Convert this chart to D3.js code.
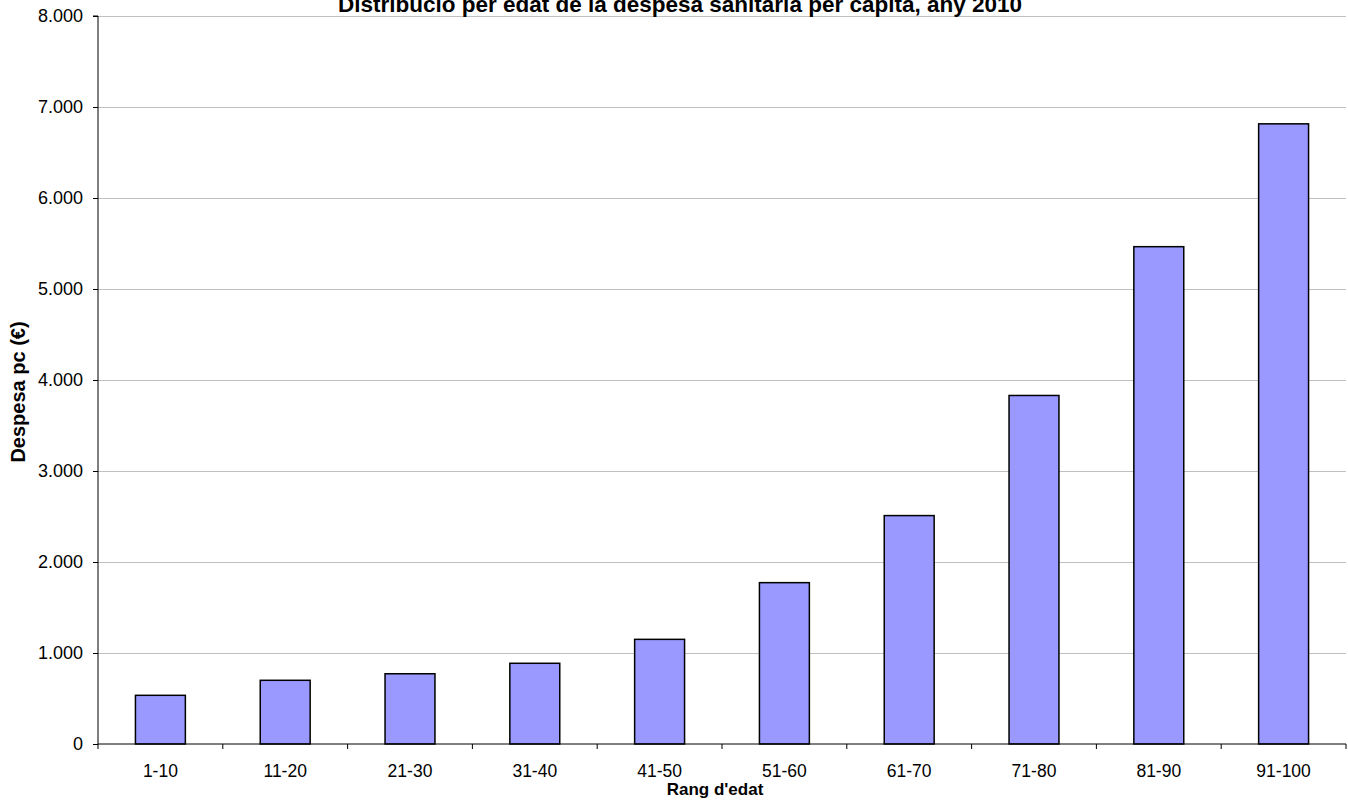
<!DOCTYPE html>
<html><head><meta charset="utf-8">
<script src="https://cdn.jsdelivr.net/npm/d3@7"></script>
<style>body{margin:0;background:#fff;font-family:Arial,"Liberation Sans",sans-serif;}</style>
</head><body><svg id="c" width="1348" height="801" style="display:block"></svg>
<script>
const categories = ["1-10","11-20","21-30","31-40","41-50","51-60","61-70","71-80","81-90","91-100"];
const values = [535, 700, 772, 887, 1150, 1773, 2510, 3830, 5465, 6815];
const yTicks = [0,1000,2000,3000,4000,5000,6000,7000,8000];
const title = "Distribució per edat de la despesa sanitària per càpita, any 2010";
const xTitle = "Rang d'edat";
const yTitle = "Despesa pc (€)";

const svg = d3.select("#c");
const m = {left:98, right:1346, top:16, bottom:744};
const x = d3.scaleBand().domain(categories).range([m.left, m.right]).paddingInner(0.6).paddingOuter(0.3);
const xb = d3.scaleBand().domain(categories).range([m.left, m.right]);
const y = d3.scaleLinear().domain([0,8000]).range([m.bottom, m.top]);
const fmt = d => d3.format(",")(d).replace(/,/g, ".");
const FONT = "Arial, Liberation Sans, sans-serif";

// gridlines
svg.append("g").selectAll("line").data(yTicks.filter(d=>d>0)).join("line")
  .attr("x1", m.left).attr("x2", m.right).attr("y1", d=>y(d)).attr("y2", d=>y(d))
  .attr("stroke", "#c0c0c0").attr("stroke-width", 1).attr("shape-rendering","crispEdges");

// bars
svg.append("g").selectAll("rect").data(values).join("rect")
  .attr("x", (d,i)=>x(categories[i])).attr("width", x.bandwidth())
  .attr("y", d=>y(d)).attr("height", d=>y(0)-y(d))
  .attr("fill", "#9999ff").attr("stroke", "#000").attr("stroke-width", 1.5);

// y axis
const ya = svg.append("g").attr("transform", `translate(${m.left},0)`)
  .call(d3.axisLeft(y).tickValues(yTicks).tickFormat(fmt).tickSize(5).tickPadding(10));
ya.select(".domain").attr("d", `M-5,${m.top}H0V${m.bottom}`);
ya.selectAll("text").attr("font-size", 18).attr("font-family", FONT).attr("fill","#000");

// x axis
const edges = categories.map(c=>xb(c)).concat([m.right]);
const xa = svg.append("g");
xa.append("line").attr("x1", m.left).attr("x2", m.right).attr("y1", m.bottom).attr("y2", m.bottom).attr("stroke","#000");
xa.selectAll("line.t").data(edges).join("line").attr("class","t")
  .attr("x1", d=>d).attr("x2", d=>d).attr("y1", m.bottom).attr("y2", m.bottom+5).attr("stroke","#000");
xa.selectAll("text").data(categories).join("text")
  .attr("x", d=>xb(d)+xb.bandwidth()/2).attr("y", 777).attr("text-anchor","middle")
  .attr("font-family", FONT).attr("font-size", 17.5).text(d=>d);

// titles
svg.append("text").attr("x", 680).attr("y", 12).attr("text-anchor","middle")
  .attr("font-family", FONT).attr("font-weight","bold").attr("font-size", 22.5).text(title);
svg.append("text").attr("x", 715).attr("y", 795).attr("text-anchor","middle")
  .attr("font-family", FONT).attr("font-weight","bold").attr("font-size", 17).text(xTitle);
svg.append("text").attr("transform", "translate(24.5,392) rotate(-90)").attr("text-anchor","middle")
  .attr("font-family", FONT).attr("font-weight","bold").attr("font-size", 20).text(yTitle);
</script></body></html>
